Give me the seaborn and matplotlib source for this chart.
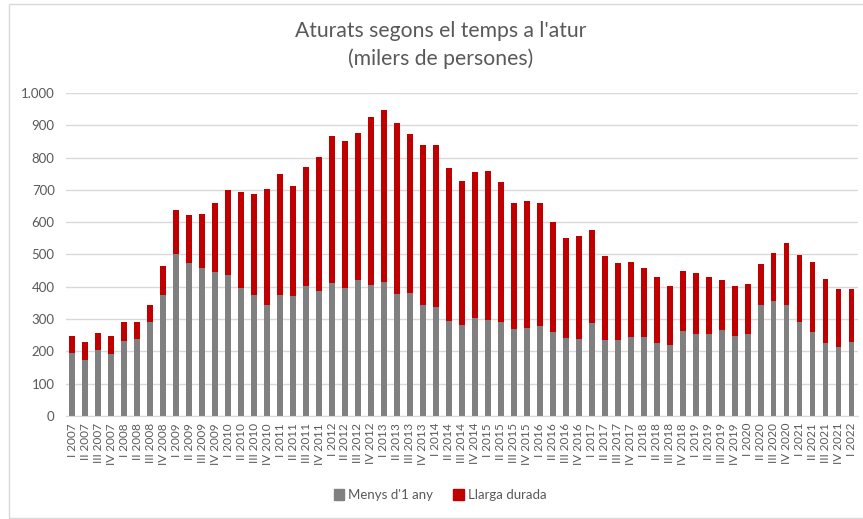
import matplotlib
matplotlib.use("Agg")
import matplotlib.pyplot as plt
import matplotlib.patches as mpatches
from matplotlib.ticker import FuncFormatter
import pandas as pd
import seaborn as sns

# quarters I 2007 .. I 2022
quarters = ["I", "II", "III", "IV"]
labels = [f"{q} {y}" for y in range(2007, 2022) for q in quarters] + ["I 2022"]

# total unemployed (thousands)
total = [248, 228, 256, 249, 292, 292, 343, 463, 639, 622, 624, 659, 699, 692, 688, 704,
         749, 712, 772, 803, 866, 852, 877, 926, 948, 908, 874, 839, 839, 769, 726, 756,
         757, 725, 658, 667, 658, 602, 552, 558, 575, 496, 474, 477, 457, 430, 402, 449,
         444, 429, 420, 403, 410, 471, 504, 536, 498, 476, 425, 393, 392]
# less than one year
menys_1_any = [196, 173, 204, 192, 232, 238, 292, 374, 502, 474, 458, 445, 436, 396, 374, 344,
               374, 370, 402, 388, 412, 397, 421, 406, 415, 378, 381, 345, 337, 294, 281, 303,
               298, 291, 270, 273, 280, 260, 240, 238, 288, 236, 235, 243, 244, 226, 220, 262,
               255, 254, 266, 247, 254, 345, 357, 345, 291, 260, 226, 212, 228]

df = pd.DataFrame({"trimestre": labels, "total": total, "menys": menys_1_any})

grey = "#808080"
red = "#C00000"
txt = "#595959"
plt.rcParams["font.family"] = ["Lato", "DejaVu Sans"]

fig = plt.figure(figsize=(8.63, 5.19), dpi=100)
ax = fig.add_axes([0.0762, 0.1985, 0.918, 0.6224])

sns.barplot(data=df, x="trimestre", y="total", color=red, width=0.45, ax=ax, saturation=1)
sns.barplot(data=df, x="trimestre", y="menys", color=grey, width=0.45, ax=ax, saturation=1)

ax.set_xlim(-0.5, len(labels) - 0.5)
ax.set_ylim(0, 1000)
ax.set_yticks(range(0, 1001, 100))
ax.yaxis.set_major_formatter(FuncFormatter(lambda v, p: f"{int(v):,}".replace(",", ".")))
ax.grid(axis="y", color="#D9D9D9", linewidth=1)
ax.set_axisbelow(True)
for s in ["top", "right", "left"]:
    ax.spines[s].set_visible(False)
ax.spines["bottom"].set_color("#D9D9D9")
ax.tick_params(axis="both", length=0, colors=txt)
ax.tick_params(axis="y", labelsize=9.5, pad=8)
ax.tick_params(axis="x", labelsize=8.5, rotation=90, pad=5)
ax.set_xlabel("")
ax.set_ylabel("")

fig.text(0.511, 0.913, "Aturats segons el temps a l'atur\n(milers de persones)",
         ha="center", va="center", fontsize=15.2, color=txt, linespacing=1.45)

handles = [mpatches.Patch(color=grey, label="Menys d'1 any"),
           mpatches.Patch(color=red, label="Llarga durada")]
fig.legend(handles=handles, loc="center", bbox_to_anchor=(0.51, 0.046), ncol=2,
           frameon=False, fontsize=9.5, labelcolor=txt, handlelength=0.8,
           handleheight=0.8, handletextpad=0.3, columnspacing=1.5)

fig.patches.append(mpatches.Rectangle((9 / 863, 1 / 519), 1.0, 514 / 519, transform=fig.transFigure,
                                      fill=False, edgecolor="#D9D9D9", linewidth=1))

fig.savefig("out.png", dpi=100)
